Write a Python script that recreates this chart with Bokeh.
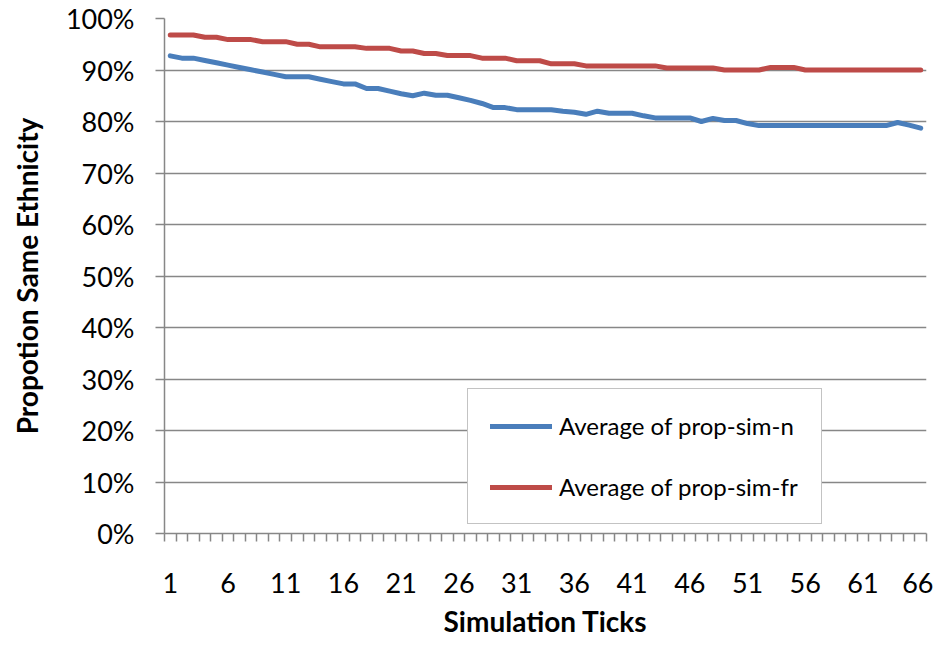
from bokeh.plotting import figure
from bokeh.models import Range1d, FixedTicker, NumeralTickFormatter, Legend, LegendItem
from bokeh.embed import file_html
from bokeh.resources import INLINE

# ---- data ----
ticks = list(range(1, 67))
prop_sim_n = [
    0.9275, 0.923, 0.923, 0.9185, 0.914, 0.9095, 0.905, 0.9005, 0.896, 0.8915,
    0.887, 0.887, 0.887, 0.882, 0.8775, 0.873, 0.873, 0.864, 0.864, 0.859,
    0.854, 0.850, 0.855, 0.851, 0.851, 0.846, 0.841, 0.835, 0.827, 0.827,
    0.823, 0.823, 0.823, 0.823, 0.820, 0.818, 0.814, 0.820, 0.816, 0.816,
    0.816, 0.811, 0.807, 0.807, 0.807, 0.807, 0.800, 0.806, 0.802, 0.802,
    0.796, 0.792, 0.792, 0.792, 0.792, 0.792, 0.792, 0.792, 0.792, 0.792,
    0.792, 0.792, 0.792, 0.798, 0.793, 0.787,
]
prop_sim_fr = [
    0.968, 0.968, 0.968, 0.9635, 0.9635, 0.959, 0.959, 0.959, 0.955, 0.955,
    0.955, 0.950, 0.950, 0.945, 0.945, 0.945, 0.945, 0.942, 0.942, 0.942,
    0.937, 0.937, 0.932, 0.932, 0.928, 0.928, 0.928, 0.923, 0.923, 0.923,
    0.918, 0.918, 0.918, 0.912, 0.912, 0.912, 0.908, 0.908, 0.908, 0.908,
    0.908, 0.908, 0.908, 0.904, 0.904, 0.904, 0.904, 0.904, 0.900, 0.900,
    0.900, 0.900, 0.905, 0.905, 0.905, 0.900, 0.900, 0.900, 0.900, 0.900,
    0.900, 0.900, 0.900, 0.900, 0.900, 0.900,
]
x_tick_labels = list(range(1, 67, 5))
y_ticks = [i / 10 for i in range(0, 11)]
series_names = ["Average of prop-sim-n", "Average of prop-sim-fr"]
series_colors = ["#4A7EBB", "#BE4B48"]

GREY = "#878787"
FONT = "Lato"

p = figure(
    width=933, height=640, output_backend="svg", toolbar_location=None,
    x_range=Range1d(0.5, 66.5), y_range=Range1d(0, 1),
    min_border_left=164, min_border_right=7, min_border_top=18, min_border_bottom=107,
    background_fill_color="white", border_fill_color="white",
)
p.outline_line_color = None

r1 = p.line(ticks, prop_sim_n, line_color=series_colors[0], line_width=5,
            line_join="round", line_cap="round")
r2 = p.line(ticks, prop_sim_fr, line_color=series_colors[1], line_width=5,
            line_join="round", line_cap="round")

# x axis
xa = p.xaxis[0]
xa.ticker = FixedTicker(ticks=x_tick_labels,
                        minor_ticks=[t - 0.5 for t in ticks] + [ticks[-1] + 0.5])
xa.axis_line_color = GREY
xa.axis_line_width = 1.5
xa.major_tick_out = 0
xa.major_tick_in = 0
xa.major_tick_line_color = None
xa.minor_tick_out = 8
xa.minor_tick_in = 0
xa.minor_tick_line_color = GREY
xa.minor_tick_line_width = 1.5
xa.major_label_standoff = 31
xa.major_label_text_font = FONT
xa.major_label_text_font_size = "27px"
xa.major_label_text_color = "black"
xa.axis_label = "Simulation Ticks"
xa.axis_label_text_font = FONT
xa.axis_label_text_font_style = "bold"
xa.axis_label_text_font_size = "28px"
xa.axis_label_text_color = "black"
xa.axis_label_standoff = 8

# y axis
ya = p.yaxis[0]
ya.ticker = FixedTicker(ticks=y_ticks)
ya.formatter = NumeralTickFormatter(format="0%")
ya.axis_line_color = GREY
ya.axis_line_width = 1.5
ya.major_tick_out = 9
ya.major_tick_in = 0
ya.major_tick_line_color = GREY
ya.major_tick_line_width = 1.5
ya.minor_tick_line_color = None
ya.major_label_standoff = 21
ya.major_label_text_font = FONT
ya.major_label_text_font_size = "27px"
ya.major_label_text_color = "black"
ya.axis_label = "Propotion Same Ethnicity"
ya.axis_label_text_font = FONT
ya.axis_label_text_font_style = "bold"
ya.axis_label_text_font_size = "28px"
ya.axis_label_text_color = "black"
ya.axis_label_standoff = 19

p.xgrid.grid_line_color = None
p.ygrid.ticker = FixedTicker(ticks=y_ticks)
p.ygrid.grid_line_color = GREY
p.ygrid.grid_line_width = 1.5

legend = Legend(
    items=[LegendItem(label=series_names[0], renderers=[r1]),
           LegendItem(label=series_names[1], renderers=[r2])],
    location=(303, 9), margin=0, padding=22, spacing=32,
    glyph_width=62, glyph_height=28, label_standoff=7, label_width=240,
    label_text_font=FONT, label_text_font_size="24px", label_text_color="black",
    border_line_color=GREY, border_line_width=1.5,
    background_fill_color="white", background_fill_alpha=1.0,
)
p.add_layout(legend, "center")

open("out.html", "w").write(file_html(p, INLINE))
